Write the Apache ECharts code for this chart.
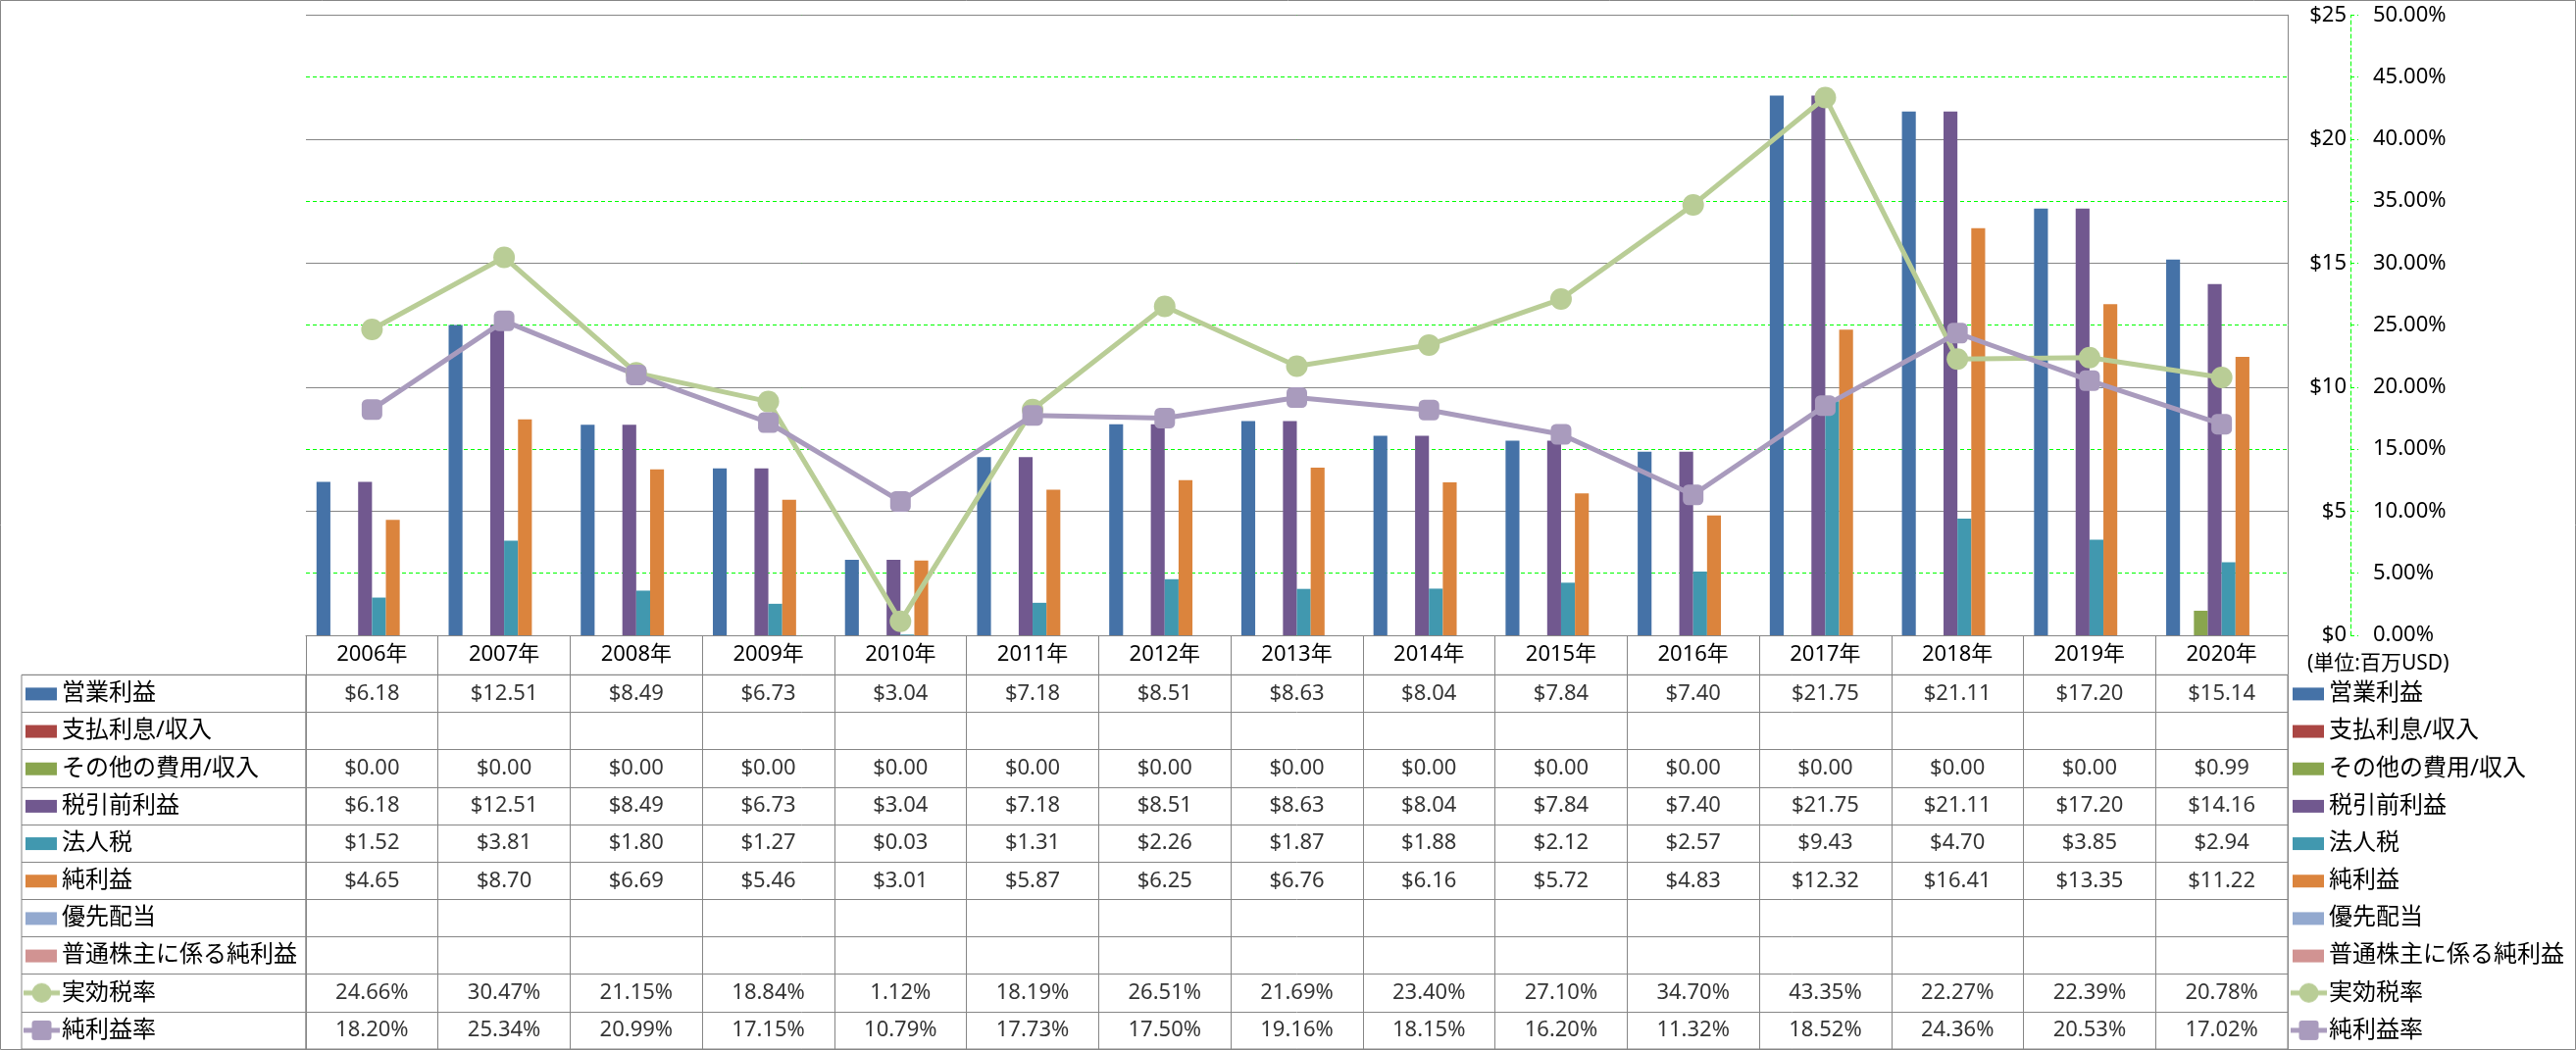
<!DOCTYPE html>
<html>
<head>
<meta charset="utf-8">
<script src="https://cdn.jsdelivr.net/npm/echarts@6/dist/echarts.min.js"></script>
<style>
html,body{margin:0;padding:0;background:#fff;}
#chart{width:2627px;height:1071px;}
</style>
</head>
<body>
<div id="chart"></div>
<script>
// ---- data ----
const years = ['2006年','2007年','2008年','2009年','2010年','2011年','2012年','2013年','2014年','2015年','2016年','2017年','2018年','2019年','2020年'];
const rowNames = ['営業利益','支払利息/収入','その他の費用/収入','税引前利益','法人税','純利益','優先配当','普通株主に係る純利益','実効税率','純利益率'];
const opIncome   = [6.18, 12.51, 8.49, 6.73, 3.04, 7.18, 8.51, 8.63, 8.04, 7.84, 7.40, 21.75, 21.11, 17.20, 15.14];
const interest   = [null, null, null, null, null, null, null, null, null, null, null, null, null, null, null];
const otherExp   = [0.00, 0.00, 0.00, 0.00, 0.00, 0.00, 0.00, 0.00, 0.00, 0.00, 0.00, 0.00, 0.00, 0.00, 0.99];
const pretax     = [6.18, 12.51, 8.49, 6.73, 3.04, 7.18, 8.51, 8.63, 8.04, 7.84, 7.40, 21.75, 21.11, 17.20, 14.16];
const incomeTax  = [1.52, 3.81, 1.80, 1.27, 0.03, 1.31, 2.26, 1.87, 1.88, 2.12, 2.57, 9.43, 4.70, 3.85, 2.94];
const netIncome  = [4.65, 8.70, 6.69, 5.46, 3.01, 5.87, 6.25, 6.76, 6.16, 5.72, 4.83, 12.32, 16.41, 13.35, 11.22];
const prefDiv    = [null, null, null, null, null, null, null, null, null, null, null, null, null, null, null];
const commonNet  = [null, null, null, null, null, null, null, null, null, null, null, null, null, null, null];
const effTaxRate = [24.66, 30.47, 21.15, 18.84, 1.12, 18.19, 26.51, 21.69, 23.40, 27.10, 34.70, 43.35, 22.27, 22.39, 20.78];
const netMargin  = [18.20, 25.34, 20.99, 17.15, 10.79, 17.73, 17.50, 19.16, 18.15, 16.20, 11.32, 18.52, 24.36, 20.53, 17.02];
const unitNote = '(単位:百万USD)';

// ---- styling ----
const FONT = "'Noto Sans', 'Noto Sans CJK JP', sans-serif";
const GRAY = '#868686';
const LIME = '#00FF00';
const colors = ['#4572A7','#AA4643','#89A54E','#71588F','#4198AF','#DB843D','#93A9CF','#D19392','#B9CD96','#A99BBD'];
const rowData = [opIncome, interest, otherExp, pretax, incomeTax, netIncome, prefDiv, commonNet, effTaxRate, netMargin];

function fmtCell(r, v) {
  return r >= 8 ? v.toFixed(2) + '%' : '$' + v.toFixed(2);
}

function keyImage(i) {
  const c = document.createElement('canvas');
  c.width = 39; c.height = 22;
  const g = c.getContext('2d');
  g.fillStyle = colors[i]; g.strokeStyle = colors[i];
  if (i < 8) {
    g.fillRect(2, 5, 32, 13);
  } else {
    g.lineWidth = 5;
    g.beginPath(); g.moveTo(0, 11); g.lineTo(37, 11); g.stroke();
    g.beginPath();
    if (i === 8) {
      g.arc(18.5, 11, 10, 0, Math.PI * 2);
    } else {
      const x = 8.5, y = 1, w = 20, h = 20, r = 3;
      g.moveTo(x + r, y); g.lineTo(x + w - r, y); g.quadraticCurveTo(x + w, y, x + w, y + r);
      g.lineTo(x + w, y + h - r); g.quadraticCurveTo(x + w, y + h, x + w - r, y + h);
      g.lineTo(x + r, y + h); g.quadraticCurveTo(x, y + h, x, y + h - r);
      g.lineTo(x, y + r); g.quadraticCurveTo(x, y, x + r, y);
    }
    g.fill();
  }
  return c;
}

const rich = { t: { fontSize: 24, fontFamily: FONT, color: '#000' } };
rowNames.forEach((n, i) => {
  rich['k' + i] = { width: 39, height: 22, backgroundColor: { image: keyImage(i) } };
});
const rowLabel = (value, index) => '{k' + index + '| }{t|' + value + '}';

// table cells
const cells = [];
rowData.forEach((arr, r) => arr.forEach((v, i) => { if (v != null) cells.push([i, r]); }));

const series = [];
for (let i = 0; i < 8; i++) {
  series.push({
    name: rowNames[i], type: 'bar', xAxisIndex: 0, yAxisIndex: 0,
    data: rowData[i], barGap: 0, barCategoryGap: '16%',
    itemStyle: { color: colors[i] }
  });
}
series.push({
  name: rowNames[8], type: 'line', xAxisIndex: 0, yAxisIndex: 1, data: effTaxRate,
  symbol: 'circle', symbolSize: 22, lineStyle: { width: 5, color: colors[8] },
  itemStyle: { color: colors[8] }, z: 5
});
series.push({
  name: rowNames[9], type: 'line', xAxisIndex: 0, yAxisIndex: 1, data: netMargin,
  symbol: 'roundRect', symbolSize: 21, lineStyle: { width: 5, color: colors[9] },
  itemStyle: { color: colors[9] }, z: 5
});
series.push({
  type: 'scatter', xAxisIndex: 1, yAxisIndex: 2, data: cells,
  symbolSize: 1, itemStyle: { color: 'rgba(0,0,0,0)' }, silent: true,
  label: {
    show: true, position: 'inside', fontSize: 22, fontFamily: FONT, color: '#000',
    formatter: p => fmtCell(p.value[1], rowData[p.value[1]][p.value[0]])
  }
});

const chart = echarts.init(document.getElementById('chart'), null, { renderer: 'canvas' });
chart.setOption({
  animation: false,
  backgroundColor: '#fff',
  textStyle: { fontFamily: FONT },
  grid: [
    { left: 312, top: 15.3, width: 2021, height: 632.7, show: false },
    { left: 312, top: 688.3, width: 2021, height: 381.7, show: true, borderColor: GRAY, borderWidth: 1 },
    { left: 22, top: 688.3, width: 290, height: 381.7, show: true, borderColor: GRAY, borderWidth: 1 }
  ],
  xAxis: [
    {
      gridIndex: 0, type: 'category', data: years,
      axisLine: { show: true, lineStyle: { color: GRAY, width: 1 } },
      axisTick: { show: true, interval: 0, length: 40.3, lineStyle: { color: GRAY, width: 1 } },
      axisLabel: { interval: 0, fontSize: 22, fontFamily: FONT, color: '#000', margin: 20, verticalAlign: 'middle' },
      splitLine: { show: false }
    },
    {
      gridIndex: 1, type: 'category', data: years,
      axisLine: { show: false }, axisTick: { show: false }, axisLabel: { show: false },
      splitLine: { show: true, interval: 0, lineStyle: { color: GRAY, width: 1 } }
    },
    { gridIndex: 2, type: 'value', show: false }
  ],
  yAxis: [
    {
      gridIndex: 0, type: 'value', position: 'right', min: 0, max: 25, interval: 5, z: 2,
      axisLine: { show: true, lineStyle: { color: GRAY, width: 1 } },
      axisTick: { show: false },
      axisLabel: { formatter: v => '$' + v, align: 'right', margin: 60, fontSize: 22, fontFamily: FONT, color: '#000' },
      splitLine: { show: true, lineStyle: { color: GRAY, width: 1 } }
    },
    {
      gridIndex: 0, type: 'value', position: 'right', offset: 64, min: 0, max: 50, interval: 5, z: 1,
      axisLine: { show: true, lineStyle: { color: LIME, width: 1, type: [4, 3] } },
      axisTick: { show: true, length: 8, lineStyle: { color: LIME, width: 1, type: [4, 3] } },
      axisLabel: { formatter: v => v.toFixed(2) + '%', margin: 23, fontSize: 22, fontFamily: FONT, color: '#000' },
      splitLine: { show: true, lineStyle: { color: LIME, width: 1, type: [4, 3] } }
    },
    {
      gridIndex: 1, type: 'category', data: rowNames, inverse: true, position: 'left',
      axisLine: { show: false }, axisTick: { show: false }, axisLabel: { show: false },
      splitLine: { show: true, interval: 0, lineStyle: { color: GRAY, width: 1 } }
    },
    {
      gridIndex: 1, type: 'category', data: rowNames, inverse: true, position: 'right',
      axisLine: { show: false }, axisTick: { show: false },
      axisLabel: { interval: 0, margin: 3, align: 'left', formatter: rowLabel, rich: rich },
      splitLine: { show: false }
    },
    {
      gridIndex: 2, type: 'category', data: rowNames, inverse: true, position: 'left',
      axisLine: { show: false }, axisTick: { show: false },
      axisLabel: { interval: 0, inside: true, margin: 2, align: 'left', formatter: rowLabel, rich: rich },
      splitLine: { show: true, interval: 0, lineStyle: { color: GRAY, width: 1 } }
    }
  ],
  graphic: [
    { type: 'rect', silent: true, shape: { x: 0.5, y: 0.5, width: 2626, height: 1070 }, style: { fill: 'none', stroke: GRAY, lineWidth: 1 } },
    { type: 'text', silent: true, x: 2353, y: 677, style: { text: unitNote, font: '21px ' + FONT, fill: '#000', verticalAlign: 'middle' } }
  ],
  series: series
});
</script>
</body>
</html>
